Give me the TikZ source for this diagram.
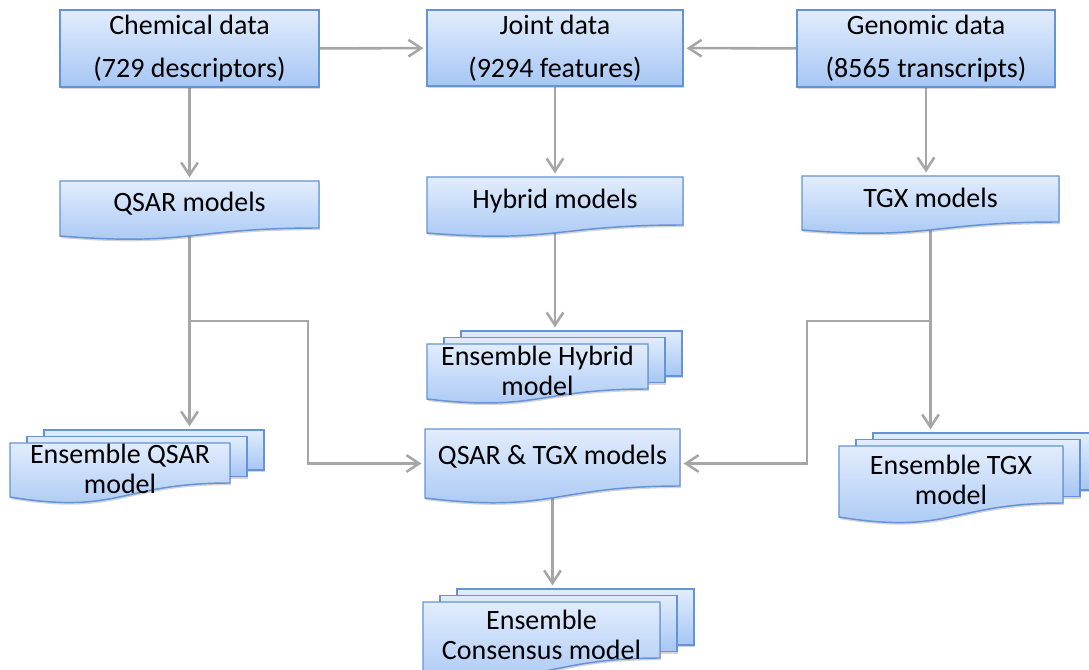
\documentclass[tikz,border=0pt]{standalone}
\usepackage{fontspec}
\setmainfont{Carlito}
\usetikzlibrary{arrows.meta,fit,shadows}
\pgfdeclarelayer{bg}
\pgfsetlayers{bg,main}
\definecolor{boxtop}{HTML}{E2EDFD}
\definecolor{boxbot}{HTML}{A6C6F4}
\definecolor{boxline}{HTML}{6494D6}
\definecolor{linkgray}{HTML}{A6A6A6}
\tikzset{
  shapefill/.style={top color=boxtop, bottom color=boxbot, draw=boxline, line width=1.1pt,
    drop shadow={shadow xshift=0.6pt, shadow yshift=-1.6pt, opacity=0.28, fill=black!60}},
  anchorbox/.style={inner sep=0pt, draw=none},
  boxtext/.style={font=\fontsize{21}{32.3}\selectfont, align=center, inner sep=0pt},
  stacktext/.style={font=\fontsize{21}{22.5}\selectfont, align=center, inner sep=0pt},
  link/.style={draw=linkgray, line width=1.9pt, shorten >=2.5pt,
    -{Straight Barb[length=9.5pt,width=12.5pt,line width=1.9pt]}},
}
% process box: name, x0, top, x1, bottom, text
\newcommand\procbox[6]{%
  \path[shapefill] (#2,#3) rectangle (#4,#5);
  \node[anchorbox, fit={(#2,#3) (#4,#5)}] (#1) {};
  \node[boxtext] (#1-text) at (#1.center) {#6};
}
% document box with wavy bottom: name, x0, top, x1, right bottom, left bottom, text y, text
\newcommand\docbox[8]{%
  \path[shapefill] (#2,#3) -- (#4,#3) -- (#4,#5)
    .. controls ({(#2+#4)/2},#5) and ({(#2+#4)/2},{#6+1.3*(#6-#5)}) .. (#2,#6) -- cycle;
  \node[anchorbox, fit={(#2,#3) (#4,#6)}] (#1) {};
  \node[boxtext] (#1-text) at ({(#2+#4)/2},#7) {#8};
}
% stacked documents: name, x0, top, x1, right bottom, left bottom, text y, text
\newcommand\stackbox[8]{%
  \path[shapefill] ({#2+34},{#3-13}) rectangle ({#4+34},{#5-13});
  \path[shapefill] ({#2+17},{#3-6.5}) rectangle ({#4+17},{#5-6.5});
  \path[shapefill] (#2,#3) -- (#4,#3) -- (#4,#5)
    .. controls ({(#2+#4)/2},#5) and ({(#2+#4)/2},{#6+1.3*(#6-#5)}) .. (#2,#6) -- cycle;
  \node[anchorbox, fit={(#2,{#3-13}) ({#4+34},#6)}] (#1) {};
  \node[stacktext] (#1-text) at ({(#2+#4)/2},#7) {#8};
}
\begin{document}
\begin{tikzpicture}[x=0.75pt, y=-0.75pt]
\clip (0,0) rectangle (1089,670);
\begin{pgfonlayer}{bg}
\fill[white] (0,0) rectangle (1089,670);
\end{pgfonlayer}

% data sources
\procbox{chem}{60}{10}{319}{87}{Chemical data\\(729 descriptors)}
\procbox{joint}{427}{10}{683}{86}{Joint data\\(9294 features)}
\procbox{genom}{797}{10}{1055}{87}{Genomic data\\(8565 transcripts)}

% single models
\docbox{qsar}{60}{181}{319}{228}{236}{204}{QSAR models}
\docbox{hybrid}{427}{177}{683}{225}{233}{201}{Hybrid models}
\docbox{tgx}{802}{176}{1059}{222}{230}{198}{TGX models}
\docbox{qt}{425}{429}{680}{486}{498}{457}{QSAR \& TGX models}

% ensembles
\stackbox{ehyb}{427}{344}{648}{389}{399}{370.5}{Ensemble Hybrid\\model}
\stackbox{eqsar}{10}{443}{230}{483}{497}{468.5}{Ensemble QSAR\\model}
\stackbox{etgx}{839}{446}{1063}{503}{517}{480}{Ensemble TGX\\model}
\stackbox{cons}{423}{602}{660}{658}{672}{635}{Ensemble\\Consensus model}

% connectors
\coordinate (splitrow) at (0,321);
\begin{pgfonlayer}{bg}
\draw[link] (chem) -- (joint);
\draw[link] (genom) -- (joint);
\draw[link] (chem.south) -- (chem.south |- qsar.north);
\draw[link] (joint.south) -- (joint.south |- hybrid.north);
\draw[link] (genom.south) -- (genom.south |- tgx.north);
\draw[link] (hybrid.south) -- (hybrid.south |- ehyb.north);
\draw[link] (qsar.south) -- (qsar.south |- eqsar.north);
\draw[link] (tgx.south) -- (tgx.south |- etgx.north);
\draw[link] (qt.south) -- (qt.south |- cons.north);
\coordinate (qsplit) at (qsar.south |- splitrow);
\coordinate (qbend) at (308,321);
\draw[link] (qsplit) -- (qbend) |- (qt.west);
\coordinate (tsplit) at (tgx.south |- splitrow);
\coordinate (tbend) at (807,321);
\draw[link] (tsplit) -- (tbend) |- (qt.east);
\end{pgfonlayer}
\end{tikzpicture}
\end{document}
